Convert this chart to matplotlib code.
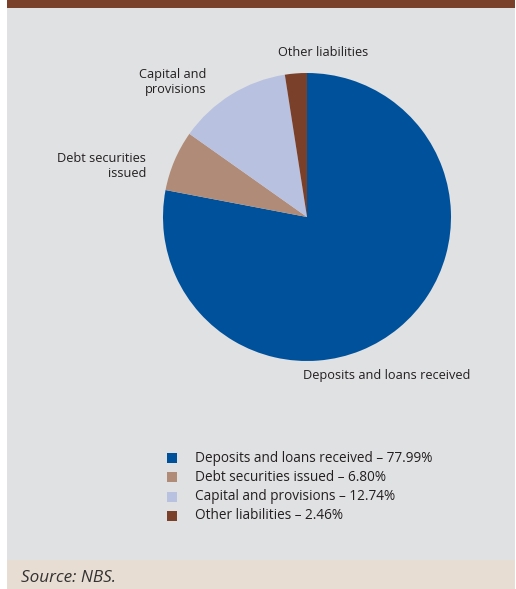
import matplotlib.pyplot as plt
from matplotlib.patches import Rectangle

# liability structure, shares in percent
labels = ["Deposits and loans received", "Debt securities issued",
          "Capital and provisions", "Other liabilities"]
shares = [77.99, 6.80, 12.74, 2.46]
colors = ["#00519b", "#b08b77", "#b8c1df", "#7b402a"]

plt.rcParams['font.family'] = ['Open Sans', 'DejaVu Sans']

W, H = 516, 589
fig = plt.figure(figsize=(W / 100, H / 100), dpi=100)
fig.patch.set_facecolor("white")

# background panels
bg = fig.add_axes([0, 0, 1, 1])
bg.set_xlim(0, W)
bg.set_ylim(H, 0)
bg.axis("off")
bg.add_patch(Rectangle((7, 0), W - 8, 8, color="#7b402a", lw=0))
bg.add_patch(Rectangle((7, 8), W - 8, 552, color="#e0e1e3", lw=0))
bg.add_patch(Rectangle((7, 560), W - 8, 29, color="#e8ddd3", lw=0))
bg.text(21, 578, "Source: NBS.", fontsize=12.3, style="italic",
        color="#333333", va="center", ha="left")

# pie
cx, cy, r = 307, 217, 144
ax = fig.add_axes([(cx - r) / W, 1 - (cy + r) / H, 2 * r / W, 2 * r / H])
ax.pie(shares, colors=colors, startangle=90, counterclock=False,
       wedgeprops=dict(linewidth=0))
ax.set_aspect("equal")
ax.set_xlim(-1, 1)
ax.set_ylim(-1, 1)

tc = "#231f20"
fs = 9.15
bg.text(323, 52, "Other liabilities", fontsize=fs, color=tc, ha="center", va="center")
bg.text(206, 82, "Capital and\nprovisions", fontsize=fs, color=tc, ha="right",
        va="center", linespacing=1.15)
bg.text(146, 166, "Debt securities\nissued", fontsize=fs, color=tc, ha="right",
        va="center", linespacing=1.15)
bg.text(387, 376, "Deposits and loans received", fontsize=fs, color=tc,
        ha="center", va="center")

# legend
for i, (lab, val, col) in enumerate(zip(labels, shares, colors)):
    y = 458 + i * 19.3
    bg.add_patch(Rectangle((167, y - 5), 10, 10, color=col, lw=0))
    bg.text(195, y, f"{lab} \u2013 {val:.2f}%", fontsize=9.8, color=tc,
            ha="left", va="center")

fig.savefig("out.png", dpi=100)
